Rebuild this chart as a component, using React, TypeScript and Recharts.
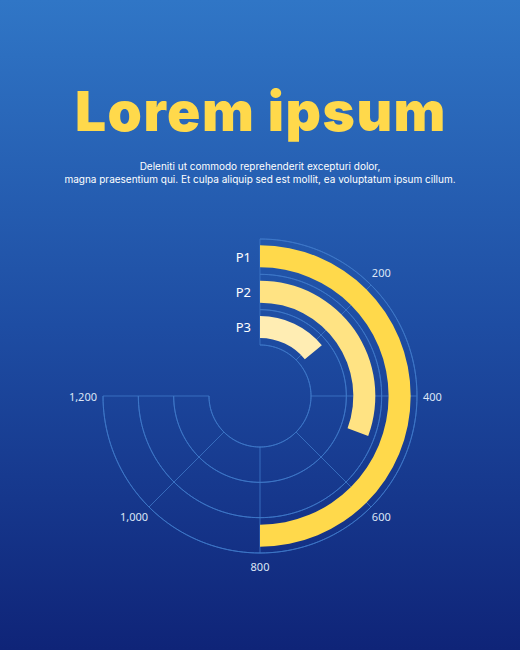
import { RadialBarChart, RadialBar, PolarAngleAxis, PolarRadiusAxis, PolarGrid } from 'recharts';

const categories = ['P1', 'P2', 'P3'];
const values = [800, 490, 225];
const barColors = ['#FFD94B', '#FFE383', '#FFEDB3'];
const angleTicks = [0, 200, 400, 600, 800, 1000, 1200];
const angleDomain = [0, 1200];

const data = categories.map((name, i) => ({ name, value: values[i], fill: barColors[i] }));

const INNER = 51;
const OUTER = 157;
const START = 90;
const END = -180;
const GRID = '#3F79C9';

// arcs at the band edges; the sweep goes out and back so the polygon never closes across the empty quarter
const bandStep = (OUTER - INNER) / categories.length;
const arcRadii = [0, 1, 2, 3].map((k) => INNER + k * bandStep);
const sweep: number[] = [];
for (let a = START; a >= END; a -= 2) sweep.push(a);
const arcAngles = [...sweep, ...sweep.slice().reverse()];

const AngleTick = (props: any) => {
  const { x, y, payload } = props;
  if (payload.value === 0) return null;
  const rad = (-payload.coordinate * Math.PI) / 180;
  const vx = Math.cos(rad);
  const vy = Math.sin(rad);
  let anchor = 'middle';
  if (vx > 0.1) anchor = 'start';
  if (vx < -0.1) anchor = 'end';
  let baseline = 'central';
  let dy = 0;
  if (vy < -0.3) { baseline = 'auto'; dy = -5; }
  if (vy > 0.3) { baseline = 'hanging'; dy = vy > 0.9 ? 4 : 2; }
  const diagonal = Math.abs(vy) > 0.3 && Math.abs(vx) > 0.3;
  const dx = anchor === 'middle' ? 0 : (diagonal ? -2 : 2) * Math.sign(vx);
  return (
    <text
      x={x + dx}
      y={y + dy}
      textAnchor={anchor}
      dominantBaseline={baseline}
      fill="#DCE6F6"
      fontSize={11}
      fontFamily="'Noto Sans', sans-serif"
    >
      {payload.value.toLocaleString('en-US')}
    </text>
  );
};

const RadiusTick = (props: any) => {
  const { x, y, payload } = props;
  return (
    <text
      x={x - 9}
      y={y}
      textAnchor="end"
      dominantBaseline="central"
      fill="#FFFFFF"
      fontSize={13}
      fontFamily="'Noto Sans', sans-serif"
    >
      {payload.value}
    </text>
  );
};

export default function App() {
  return (
    <div
      style={{
        position: 'absolute',
        left: 0,
        top: 0,
        width: 520,
        height: 650,
        overflow: 'hidden',
        background: 'linear-gradient(180deg, #3076C6 0%, #1E4DA3 50%, #0F2478 100%)',
        fontFamily: "'Noto Sans', sans-serif",
      }}
    >
      <div
        style={{
          position: 'absolute',
          top: 76,
          left: 1,
          width: 520,
          textAlign: 'center',
          color: '#FFD94B',
          fontFamily: 'Inter, sans-serif',
          fontWeight: 900,
          fontSize: 55,
          letterSpacing: 1.5,
          lineHeight: '70px',
        }}
      >
        Lorem ipsum
      </div>
      <div
        style={{
          position: 'absolute',
          top: 160,
          width: 520,
          textAlign: 'center',
          color: '#FFFFFF',
          fontFamily: 'Inter, sans-serif',
          fontSize: 10,
          lineHeight: '13px',
        }}
      >
        Deleniti ut commodo reprehenderit excepturi dolor,
        <br />
        magna praesentium qui. Et culpa aliquip sed est mollit, ea voluptatum ipsum cillum.
      </div>
      <div style={{ position: 'absolute', top: 196, left: 0 }}>
        <RadialBarChart
          width={520}
          height={420}
          cx={260}
          cy={200}
          innerRadius={INNER}
          outerRadius={OUTER}
          startAngle={START}
          endAngle={END}
          data={data}
          barSize={22}
        >
          <PolarGrid
            gridType="polygon"
            polarAngles={arcAngles}
            polarRadius={arcRadii}
            radialLines={false}
            stroke={GRID}
            strokeWidth={0.8}
          />
          <PolarGrid polarRadius={[]} stroke={GRID} strokeWidth={0.8} />
          <PolarAngleAxis
            type="number"
            dataKey="value"
            domain={angleDomain}
            ticks={angleTicks}
            tickSize={4}
            axisLine={false}
            tickLine={false}
            tick={AngleTick}
          />
          <PolarRadiusAxis
            type="category"
            dataKey="name"
            angle={90}
            orientation="left"
            reversed
            axisLine={false}
            tickLine={false}
            tick={RadiusTick}
          />
          <RadialBar dataKey="value" isAnimationActive={false} />
        </RadialBarChart>
      </div>
    </div>
  );
}
